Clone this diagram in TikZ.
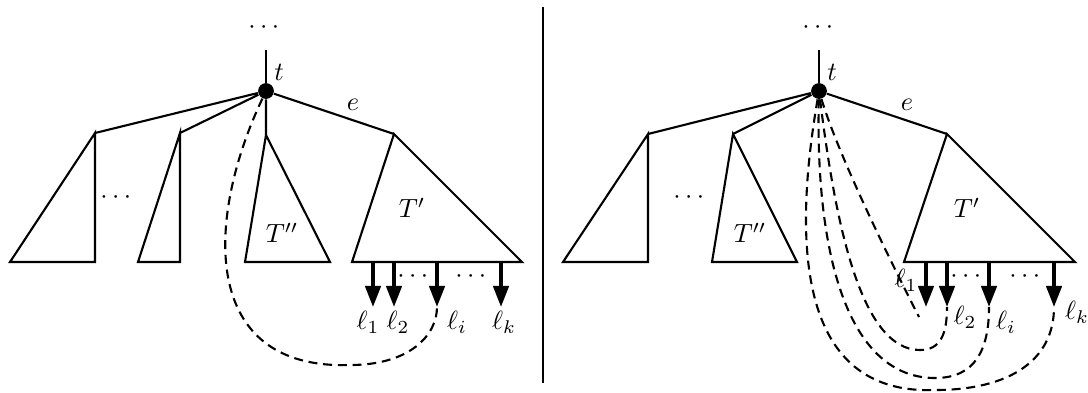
\documentclass[tikz,border=0pt]{standalone}
\usepackage{amsmath}
\usetikzlibrary{arrows.meta}

\tikzset{
  vert/.style={circle, fill=black, inner sep=0pt, minimum size=6pt},
  leaf/.style={line width=1.4pt, -{Triangle[length=8pt,width=5.8pt]}},
  jump/.style={thick, dash pattern=on 3.4pt off 2.2pt},
  lbl/.style={inner sep=0pt}
}

\begin{document}
\begin{tikzpicture}[x=0.38pt, y=-0.38pt]
    \useasboundingbox (0,0) rectangle (1088,392);
    % left picture
    \node[vert] (t) at (266,91) {};
    \coordinate (top) at (266,50);
    \coordinate (A) at (95,133);
    \coordinate (B) at (180,133);
    \coordinate (C) at (266,135);
    \coordinate (D) at (394,134);
    \draw[thick] (top) -- (t);
    \draw[thick] (t) -- (A) (t) -- (B) (t) -- (C) (t) -- (D);
    \draw[thick] (A) -- (10,262) -- (95,262) -- cycle;
    \draw[thick] (B) -- (138,262) -- (180,262) -- cycle;
    \draw[thick] (C) -- (245,262) -- (330,262) -- cycle;
    \draw[thick] (D) -- (352,262) -- (522,262) -- cycle;
    \foreach \x/\n in {373/1,394/2,437/3,501/4} {
        \coordinate (b\n) at (\x,262);
        \coordinate (l\n) at (\x,307);
        \draw[leaf] (b\n) -- (l\n);
    }
    \draw[jump] (t) .. controls (205,220) and (200,370) .. (350,365)
        .. controls (410,365) and (437,335) .. (l3);
    \node[lbl] (up) at (266,28) {$\cdots$};
    \node[lbl] (tl) at (279,72) {$t$};
    \node[lbl] (el) at (353,105) {$e$};
    \node[lbl] (mid) at (118,198) {$\cdots$};
    \node[lbl] (Tpp) at (282,233) {$T''$};
    \node[lbl] (Tp) at (412,208) {$T'$};
    \node[lbl] (ld1) at (415,277) {$\cdots$};
    \node[lbl] (ld2) at (473,277) {$\cdots$};
    \node[lbl] (ll1) at (368,322) {$\ell_1$};
    \node[lbl] (ll2) at (398,322) {$\ell_2$};
    \node[lbl] (lli) at (457,322) {$\ell_i$};
    \node[lbl] (llk) at (504,322) {$\ell_k$};

    % separator
    \draw (543,7) -- (543,383);

    % right picture
    \node[vert] (t2) at (819,91) {};
    \coordinate (top2) at (819,50);
    \coordinate (A2) at (648,134);
    \coordinate (B2) at (733,134);
    \coordinate (D2) at (947,134);
    \draw[thick] (top2) -- (t2);
    \draw[thick] (t2) -- (A2) (t2) -- (B2) (t2) -- (D2);
    \draw[thick] (A2) -- (563,262) -- (648,262) -- cycle;
    \draw[thick] (B2) -- (712,262) -- (797,262) -- cycle;
    \draw[thick] (D2) -- (904,262) -- (1075,262) -- cycle;
    \foreach \x/\n in {926/1,947/2,989/3,1054/4} {
        \coordinate (c\n) at (\x,262);
        \coordinate (r\n) at (\x,307);
        \draw[leaf] (c\n) -- (r\n);
    }
    \coordinate (j1) at (919,317);
    \draw[jump] (t2) .. controls (840,160) and (895,270) .. (j1);
    \draw[jump] (t2) .. controls (835,220) and (860,350) .. (920,350)
        .. controls (940,350) and (947,335) .. (r2);
    \draw[jump] (t2) .. controls (815,260) and (850,378) .. (935,378)
        .. controls (975,378) and (989,350) .. (r3);
    \draw[jump] (t2) .. controls (790,260) and (805,395) .. (935,390)
        .. controls (1010,390) and (1054,360) .. (r4);
    \node[lbl] (up2) at (820,28) {$\cdots$};
    \node[lbl] (tl2) at (832,72) {$t$};
    \node[lbl] (el2) at (907,105) {$e$};
    \node[lbl] (mid2) at (691,198) {$\cdots$};
    \node[lbl] (Tpp2) at (750,233) {$T''$};
    \node[lbl] (Tp2) at (967,208) {$T'$};
    \node[lbl] (rd1) at (968,277) {$\cdots$};
    \node[lbl] (rd2) at (1027,277) {$\cdots$};
    \node[lbl] (rl1) at (906,280) {$\ell_1$};
    \node[lbl] (rl2) at (965,317) {$\ell_2$};
    \node[lbl] (rli) at (1006,322) {$\ell_i$};
    \node[lbl] (rlk) at (1077,312) {$\ell_k$};
\end{tikzpicture}
\end{document}
